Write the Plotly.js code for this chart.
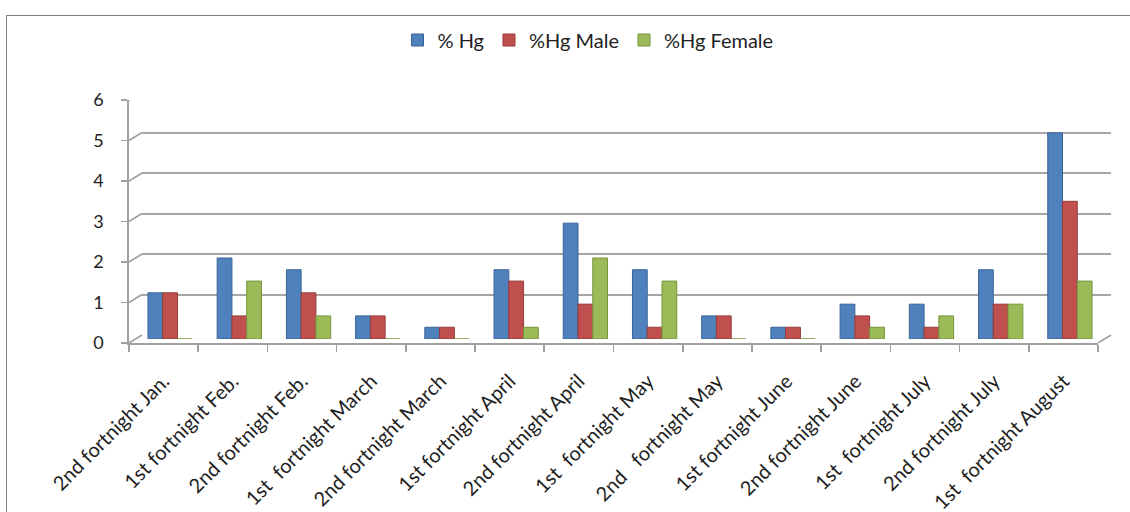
<!DOCTYPE html>
<html>
<head>
<meta charset="utf-8">
<script src="https://cdn.plot.ly/plotly-3.0.1.min.js"></script>
<style>
  html, body { margin: 0; padding: 0; background: #ffffff; overflow: hidden; }
  #wrap { position: relative; width: 1130px; height: 512px; }
  #chart { width: 1130px; height: 512px; }
  #frame { position: absolute; left: 6px; top: 15px; width: 1200px; height: 600px;
           border-left: 1.5px solid #808080; border-top: 1.5px solid #808080; pointer-events: none; }
</style>
</head>
<body>
<div id="wrap">
  <div id="chart"></div>
  <div id="frame"></div>
</div>
<script>
// ---- data ----
const categories = [
  "2nd fortnight Jan.",
  "1st fortnight Feb.",
  "2nd fortnight Feb.",
  "1st\u00a0 fortnight March",
  "2nd fortnight March",
  "1st fortnight April",
  "2nd fortnight April",
  "1st\u00a0 fortnight May",
  "2nd\u00a0\u00a0 fortnight May",
  "1st fortnight June",
  "2nd fortnight June",
  "1st\u00a0 fortnight July",
  "2nd fortnight July",
  "1st\u00a0 fortnight August"
];
const seriesNames = ["% Hg", "%Hg Male", "%Hg Female"];
const hgAll    = [1.14, 2.00, 1.71, 0.57, 0.29, 1.71, 2.86, 1.71, 0.57, 0.29, 0.86, 0.86, 1.71, 5.09];
const hgMale   = [1.14, 0.57, 1.14, 0.57, 0.29, 1.43, 0.86, 0.29, 0.57, 0.29, 0.57, 0.29, 0.86, 3.40];
const hgFemale = [0.00, 1.43, 0.57, 0.00, 0.00, 0.29, 2.00, 1.43, 0.00, 0.00, 0.29, 0.57, 0.86, 1.43];
const yTicks = [0, 1, 2, 3, 4, 5, 6];

// ---- styling ----
const colors = ["#4F81BD", "#C0504D", "#9BBB59"];
const edges  = ["#3A6496", "#963B38", "#77933C"];
const FONT = "Lato, 'Open Sans', sans-serif";

// ---- geometry helpers (layout, pixel -> paper fraction) ----
const W = 1130, H = 512, L = 129, R = 19, T = 92, B = 169;
const PW = W - L - R, PH = H - T - B;
const fx = p => (p - L) / PW;
const fy = p => (H - B - p) / PH;

// empty helper traces so that the grid subplot (x,y) and the front-axis subplot (x2,y2) exist
const helpers = [
  { type: "scatter", x: [], y: [], xaxis: "x", yaxis: "y", showlegend: false, hoverinfo: "skip" },
  { type: "scatter", x: [], y: [], xaxis: "x2", yaxis: "y2", showlegend: false, hoverinfo: "skip" }
];

const values = [hgAll, hgMale, hgFemale];
const bars = values.map((v, i) => ({
  type: "bar",
  name: seriesNames[i],
  x: categories,
  y: v,
  xaxis: "x3",
  yaxis: "y3",
  marker: { color: colors[i], line: { color: edges[i], width: 1 } },
  hoverinfo: "x+y+name"
}));

const idx = categories.map((c, i) => i);

const shapes = yTicks.map(v => ({
  type: "line", xref: "paper", yref: "y2",
  xsizemode: "pixel", ysizemode: "pixel",
  xanchor: 0, yanchor: v,
  x0: 0, x1: 13, y0: 0, y1: 8,
  line: { color: "#a0a0a0", width: 1.6 }
}));
shapes.push({
  type: "line", xref: "paper", yref: "y2",
  xsizemode: "pixel", ysizemode: "pixel",
  xanchor: fx(1098), yanchor: 0,
  x0: 0, x1: 13, y0: 0, y1: 8,
  line: { color: "#a0a0a0", width: 1.6 }
});

const layout = {
  width: W, height: H,
  margin: { l: L, r: R, t: T, b: B, pad: 0, autoexpand: false },
  paper_bgcolor: "#ffffff",
  plot_bgcolor: "rgba(0,0,0,0)",
  font: { family: FONT, color: "#1e1e1e" },
  showlegend: true,
  legend: {
    orientation: "h",
    x: fx(588), xanchor: "center",
    y: 1 + (T - 40) / PH, yanchor: "middle",
    font: { family: FONT, size: 20, color: "#1e1e1e" },
    itemwidth: 30,
    traceorder: "normal"
  },
  bargap: 0.36,
  bargroupgap: 0,
  barmode: "group",
  // back wall gridlines
  xaxis: { domain: [fx(142), 1], range: [0, 1], anchor: "y", visible: false, fixedrange: true },
  yaxis: {
    domain: [fy(335), fy(92)], range: [0, 6], anchor: "x",
    tickvals: yTicks, showticklabels: false, ticks: "",
    showgrid: true, gridcolor: "#a6a6a6", gridwidth: 2,
    zeroline: false, showline: false, fixedrange: true
  },
  // front axes with labels
  xaxis2: {
    domain: [0, fx(1098)], range: [-0.5, categories.length - 0.5], anchor: "y2",
    tickvals: idx, ticktext: categories, ticks: "", tickangle: -45,
    ticklabelstandoff: 17,
    tickfont: { family: FONT, size: 20, color: "#1e1e1e" },
    minor: { tick0: -0.5, dtick: 1, ticks: "outside", ticklen: 7, tickcolor: "#a0a0a0", tickwidth: 1.6, showgrid: false },
    showgrid: false, zeroline: false,
    showline: true, linecolor: "#a0a0a0", linewidth: 1.6,
    automargin: false, fixedrange: true
  },
  yaxis2: {
    domain: [0, fy(100)], range: [0, 6], anchor: "x2",
    tickvals: yTicks, ticks: "outside", ticklen: 6, tickcolor: "#a0a0a0", tickwidth: 1.6,
    ticklabelstandoff: 14,
    tickfont: { family: FONT, size: 18, color: "#1e1e1e" },
    showgrid: false, zeroline: false,
    showline: true, linecolor: "#a0a0a0", linewidth: 1.6,
    automargin: false, fixedrange: true
  },
  // bars at mid depth
  xaxis3: { domain: [fx(135.5), fx(1104.5)], anchor: "y3", visible: false, type: "category", fixedrange: true },
  yaxis3: { domain: [fy(339), fy(96)], range: [0, 6], anchor: "x3", visible: false, fixedrange: true },
  shapes: shapes
};

Plotly.newPlot("chart", helpers.concat(bars), layout, { displayModeBar: false, staticPlot: true });
</script>
</body>
</html>
